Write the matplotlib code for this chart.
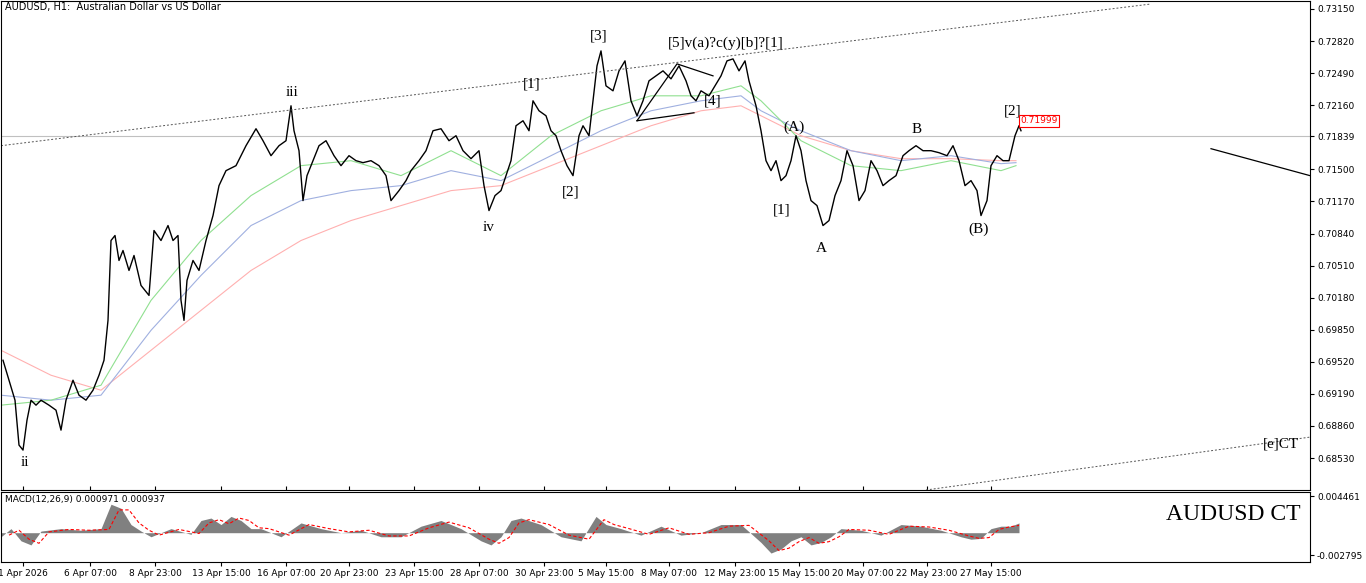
import matplotlib
matplotlib.use("Agg")
import matplotlib.pyplot as plt
import numpy as np

# Price readings (bar index, y-pixel on reference price scale) -> converted to price
def px2price(y):
    return 0.73232 - np.asarray(y) * 0.00010267

price_x = [2,8,14,18,22,26,30,35,40,48,55,60,65,72,78,85,92,98,103,107,110,114,118,122,128,133,140,148,153,160,167,172,177,180,183,186,192,198,205,212,218,225,235,245,255,262,270,278,285,290,293,298,302,306,312,318,325,333,340,348,355,362,370,378,385,390,398,405,410,418,425,432,440,448,455,462,470,478,483,488,494,500,505,510,515,522,528,532,538,545,550,555,560,566,572,578,582,588,592,596,600,605,612,618,624,630,636,642,648,655,662,670,678,685,690,695,700,708,714,720,726,732,738,744,748,755,760,765,770,775,780,785,790,795,800,805,810,816,822,828,834,840,846,852,858,864,870,876,882,888,895,902,908,915,922,930,938,946,952,958,964,970,976,980,986,990,996,1002,1008,1014,1018,1020]
price_ypx = [360,380,400,445,450,420,400,405,400,405,410,430,400,380,395,400,390,375,360,320,240,235,260,250,270,255,285,295,230,240,225,240,235,300,320,280,260,270,240,215,185,170,165,145,128,140,155,145,140,105,130,150,200,175,160,145,140,155,165,155,160,162,160,165,175,200,190,180,170,160,150,130,128,140,135,150,158,150,185,210,195,190,175,160,125,120,130,100,110,115,130,135,150,165,175,135,125,135,100,65,50,85,90,70,60,100,115,100,80,75,70,78,65,80,95,100,90,95,85,75,60,58,70,60,80,105,130,160,170,160,180,175,160,135,150,180,200,205,225,220,195,180,150,165,200,190,160,170,185,180,175,155,150,145,150,150,152,155,145,160,185,180,190,215,200,165,155,160,160,135,125,130]
price = px2price(price_ypx)

ma_x = [0,50,100,150,200,250,300,350,400,450,500,550,600,650,700,740,760,800,850,900,950,1000,1015]
ma_fast_px = [405,400,385,300,240,195,165,160,175,150,175,135,110,95,95,85,100,140,165,170,160,170,165]
ma_mid_px = [395,400,395,330,275,225,200,190,185,170,180,155,130,110,100,95,110,130,150,160,155,163,162]
ma_slow_px = [350,375,390,350,310,270,240,220,205,190,185,165,145,125,110,105,115,135,150,158,158,160,160]

macd_x = [0,10,20,30,40,60,80,100,110,120,130,140,150,170,190,200,210,220,230,240,250,260,280,300,320,340,360,380,400,420,440,460,480,490,500,510,520,540,560,580,595,605,620,640,660,680,700,720,740,760,770,780,790,800,810,820,830,840,860,880,900,920,940,960,970,980,990,1000,1010,1018]
macd_hist = [-0.5,0.5,-1,-1.5,0.2,0.5,0.3,0.5,3.5,3,1,0.2,-0.5,0.5,-0.2,1.5,1.8,1,2,1.5,0.5,0.5,-0.5,1.2,0.5,0,0.3,-0.5,-0.5,0.8,1.5,0.5,-1,-1.5,-0.5,1.5,1.8,1,-0.5,-1,2,1,0.5,-0.3,0.8,-0.3,0,1,1,-1.2,-2.5,-2,-1,-0.5,-1.5,-1.2,-0.5,0.5,0.3,-0.3,1,0.8,0.3,-0.5,-0.8,-0.7,0.5,0.8,0.8,1.2]
sig_x = [8,18,28,38,48,68,88,108,118,128,138,148,158,178,198,208,218,228,238,248,258,268,288,308,328,348,368,388,408,428,448,468,488,498,508,518,528,548,568,588,603,613,628,648,668,688,708,728,748,768,778,788,798,808,818,828,838,848,868,888,908,928,948,968,978,988,998,1008,1018]
macd_sig = [-0.3,0.3,-0.8,-1.3,0.1,0.4,0.3,0.4,2.8,2.8,1.2,0.3,-0.3,0.4,-0.1,1.2,1.6,1.1,1.8,1.5,0.6,0.5,-0.3,1.0,0.5,0.1,0.3,-0.4,-0.4,0.6,1.3,0.6,-0.8,-1.3,-0.6,1.2,1.6,1.0,-0.3,-0.8,1.6,1.0,0.5,-0.2,0.6,-0.2,0,0.8,0.9,-1.0,-2.2,-1.9,-1.1,-0.6,-1.3,-1.1,-0.5,0.4,0.3,-0.2,0.8,0.7,0.3,-0.4,-0.7,-0.6,0.4,0.7,0.9]

xtick_pos = [22,89,154,220,285,348,413,478,543,605,668,734,798,862,926,990]
xtick_lab = ["1 Apr 2026","6 Apr 07:00","8 Apr 23:00","13 Apr 15:00","16 Apr 07:00","20 Apr 23:00","23 Apr 15:00","28 Apr 07:00","30 Apr 23:00","5 May 15:00","8 May 07:00","12 May 23:00","15 May 15:00","20 May 07:00","22 May 23:00","27 May 15:00"]
ytick_vals = [0.73150,0.72820,0.72490,0.72160,0.71500,0.71170,0.70840,0.70510,0.70180,0.69850,0.69520,0.69190,0.68860,0.68530]

wave_labels = [("iii",291,92),("ii",24,462),("iv",488,227),("[1]",531,83),("[2]",570,191),("[3]",598,35),
               ("[5]v(a)?c(y)[b]?[1]",725,42),("[4]",712,100),("(A)",793,127),("[1]",781,209),("A",820,248),
               ("B",916,129),("(B)",978,229),("[2]",1012,110),("[e]CT",1280,444)]

W, H = 1366, 583
fig = plt.figure(figsize=(W/100, H/100), dpi=100)
ax = fig.add_axes([1/W, 1-490/H, 1309/W, 489/H])
ax2 = fig.add_axes([1/W, 1-562/H, 1309/W, 70/H])
ylo, yhi = px2price(490), px2price(0)
ax.set_xlim(0, 1309); ax.set_ylim(ylo, yhi)
ax2.set_xlim(0, 1309)

ax.axhline(0.71839, color="#c0c0c0", lw=0.8)
ax.plot(ma_x, px2price(ma_slow_px), color="#ffb0b0", lw=0.8)
ax.plot(ma_x, px2price(ma_mid_px), color="#a0b0e0", lw=0.8)
ax.plot(ma_x, px2price(ma_fast_px), color="#90e090", lw=0.8)
ax.plot(price_x, price, color="black", lw=1.0)
ax.plot([0,1150], px2price([145,3]), color="#555555", lw=0.7, ls=(0,(2,2)))
ax.plot([925,1309], px2price([490,437]), color="#555555", lw=0.7, ls=(0,(2,2)))
ax.plot([1210,1309], px2price([148,175]), color="black", lw=0.9)
ax.plot([636,676,712], px2price([120,63,75]), color="black", lw=0.9)
ax.plot([636,693], px2price([120,112]), color="black", lw=0.9)
for t, x, y in wave_labels:
    ax.text(x, px2price(y), t, ha="center", va="center", fontsize=11, family="Liberation Serif")
ax.text(4, yhi - 0.00015, "AUDUSD, H1:  Australian Dollar vs US Dollar", fontsize=7, va="top", ha="left")
ax.text(1038, px2price(120), "0.71999", fontsize=6.5, color="red", ha="center", va="center",
        bbox=dict(boxstyle="square,pad=0.15", fc="white", ec="red", lw=0.8))

ax.yaxis.tick_right()
ax.set_yticks(ytick_vals + [0.71839])
ax.set_yticklabels([f"{v:.5f}" for v in ytick_vals] + ["0.71839"], fontsize=6.5)
ax.tick_params(axis="y", length=3, pad=2)
ax.set_xticks(xtick_pos); ax.set_xticklabels([])
ax.tick_params(axis="x", length=3, direction="in")

ax2.fill_between(macd_x, 0, macd_hist, color="#808080", lw=0)
ax2.plot(sig_x, macd_sig, color="red", lw=0.8, ls=(0,(3,2)))
ax2.set_ylim(-3.6, 5.0)
ax2.yaxis.tick_right()
ax2.set_yticks([4.461, -2.795]); ax2.set_yticklabels(["0.004461", "-0.002795"], fontsize=6.5)
ax2.tick_params(axis="y", length=3, pad=2)
ax2.set_xticks(xtick_pos); ax2.set_xticklabels(xtick_lab, fontsize=6.5)
ax2.tick_params(axis="x", length=3, pad=2)
ax2.text(4, 4.6, "MACD(12,26,9) 0.000971 0.000937", fontsize=6.5, va="top")
ax2.text(1300, 2.2, "AUDUSD CT", fontsize=17, ha="right", va="center", family="Liberation Serif")
for a in (ax, ax2):
    for s in a.spines.values():
        s.set_linewidth(0.8)
fig.savefig("out.png", dpi=100)
